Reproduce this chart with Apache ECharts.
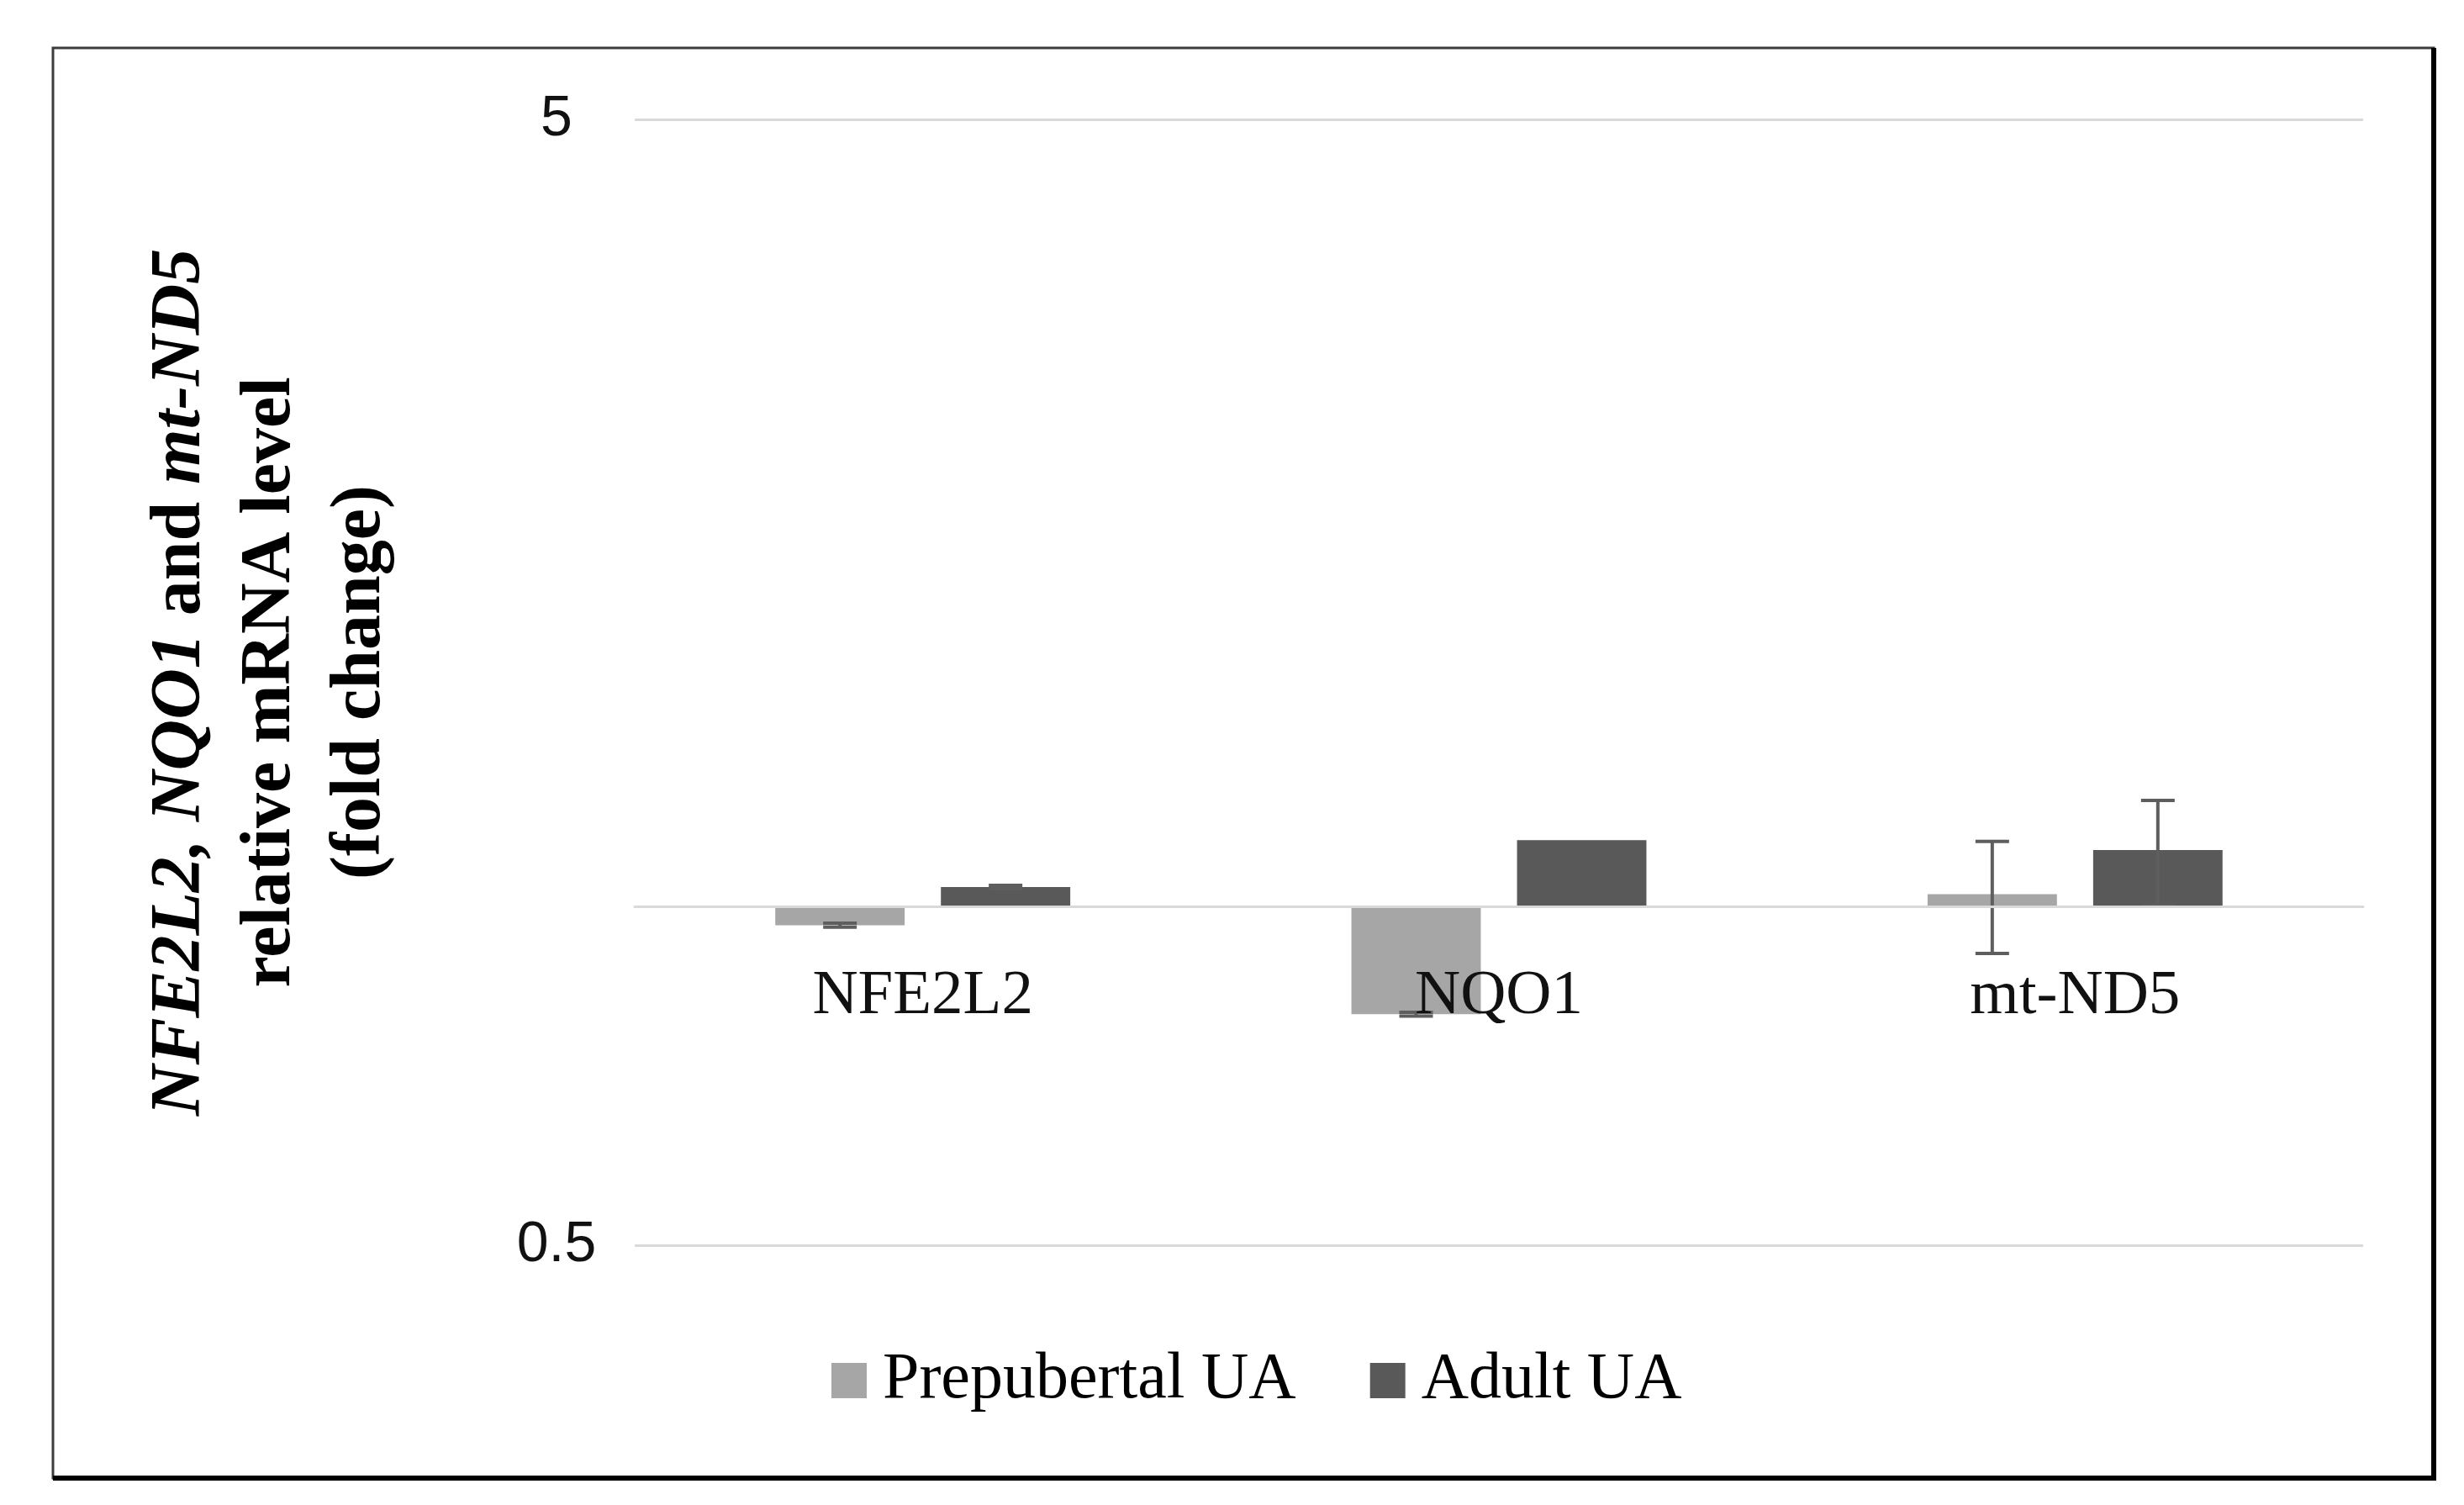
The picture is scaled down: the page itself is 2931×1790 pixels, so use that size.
<!DOCTYPE html>
<html>
<head>
<meta charset="utf-8">
<script src="https://cdn.jsdelivr.net/npm/echarts@6/dist/echarts.min.js"></script>
<style>
  html, body { margin: 0; padding: 0; background: #fff; }
  #chart { width: 2931px; height: 1790px; }
</style>
</head>
<body>
<div id="chart"></div>
<script>
// ---- data ----
const categories = ['NFE2L2', 'NQO1', 'mt-ND5'];
const seriesNames = ['Prepubertal UA', 'Adult UA'];
const prepubertal = [0.962, 0.802, 1.025];
const adult = [1.040, 1.145, 1.122];
const prepubertalErr = [0.004, 0.003, 0.117];
const adultErr = [0.004, 0, 0.120];
const yTicks = [0.5, 5];

// ---- layout / style ----
const GRID = { left: 755, right: 2931 - 2811, top: 142, bottom: 1790 - 1481 };
const GRID_H = 1790 - GRID.top - GRID.bottom;
const CAT_GAP = 0.488, BAR_GAP = 0.28;
const COLORS = ['#a6a6a6', '#595959'];
const SERIF = "'Liberation Serif', 'Times New Roman', serif";
const SANS = "'Liberation Sans', Arial, sans-serif";

const yMin = yTicks[0], yMax = yTicks[yTicks.length - 1];
const xAxisOffset = -GRID_H * Math.log10(1 / yMin) / Math.log10(yMax / yMin);

function errData(means, errs) {
  const out = [];
  means.forEach((m, i) => { if (errs[i] > 0) out.push([i, m - errs[i], m + errs[i]]); });
  return out;
}

function makeErrRender(side) {
  return function (params, api) {
    const i = api.value(0), lo = api.value(1), hi = api.value(2);
    const band = api.coord([1, 1])[0] - api.coord([0, 1])[0];
    const barW = band * (1 - CAT_GAP) / (2 + BAR_GAP);
    const offset = side * (barW + barW * BAR_GAP) / 2;
    const x = api.coord([i, 1])[0] + offset;
    const yLo = api.coord([i, lo])[1];
    const yHi = api.coord([i, hi])[1];
    const cap = 20;
    const st = { stroke: '#5e5e5e', lineWidth: 4 };
    return {
      type: 'group',
      children: [
        { type: 'line', shape: { x1: x, y1: yLo, x2: x, y2: yHi }, style: st },
        { type: 'line', shape: { x1: x - cap, y1: yLo, x2: x + cap, y2: yLo }, style: st },
        { type: 'line', shape: { x1: x - cap, y1: yHi, x2: x + cap, y2: yHi }, style: st }
      ]
    };
  };
}

const chart = echarts.init(document.getElementById('chart'), null, { renderer: 'canvas' });

const titleBase = { fontFamily: SERIF, fontSize: 84, fontWeight: 'bold', color: '#000', lineHeight: 107 };

chart.setOption({
  backgroundColor: '#ffffff',
  animation: false,
  grid: GRID,
  legend: {
    data: seriesNames,
    left: 984,
    top: 1598,
    icon: 'rect',
    itemWidth: 42,
    itemHeight: 42,
    itemGap: 88,
    textStyle: { fontFamily: SERIF, fontSize: 78, color: '#000', padding: [0, 0, 0, 14] }
  },
  xAxis: {
    type: 'category',
    data: categories,
    offset: xAxisOffset,
    z: 5,
    axisLine: { show: true, lineStyle: { color: '#d9d9d9', width: 3 } },
    axisTick: { show: false },
    axisLabel: { fontFamily: SERIF, fontSize: 75, color: '#111', margin: 70 },
    splitLine: { show: false }
  },
  yAxis: {
    type: 'log',
    logBase: 10,
    min: yMin,
    max: yMax,
    interval: 1,
    axisLine: { show: false },
    axisTick: { show: false },
    axisLabel: { fontFamily: SANS, fontSize: 68, color: '#111', align: 'center', margin: 93 },
    splitLine: { show: true, lineStyle: { color: '#d9d9d9', width: 3 } },
    name: '{i|NFE2L2, NQO1}{b| and }{i|mt-ND5}\n{b|relative mRNA level}\n{b|(fold change)}',
    nameLocation: 'middle',
    nameGap: 272,
    nameRotate: 90,
    nameTextStyle: Object.assign({}, titleBase, {
      rich: {
        i: Object.assign({}, titleBase, { fontStyle: 'italic' }),
        b: Object.assign({}, titleBase)
      }
    })
  },
  series: [
    {
      name: seriesNames[0], type: 'bar', data: prepubertal,
      itemStyle: { color: COLORS[0] },
      barCategoryGap: (CAT_GAP * 100) + '%', barGap: (BAR_GAP * 100) + '%'
    },
    {
      name: seriesNames[1], type: 'bar', data: adult,
      itemStyle: { color: COLORS[1] },
      barCategoryGap: (CAT_GAP * 100) + '%', barGap: (BAR_GAP * 100) + '%'
    },
    {
      name: 'errPre', type: 'custom', z: 4, data: errData(prepubertal, prepubertalErr),
      renderItem: makeErrRender(-1), silent: true
    },
    {
      name: 'errAdult', type: 'custom', z: 4, data: errData(adult, adultErr),
      renderItem: makeErrRender(1), silent: true
    }
  ],
  graphic: [
    { type: 'rect', shape: { x: 63, y: 57, width: 2832, height: 1701 },
      style: { fill: 'none', stroke: '#3c3c3c', lineWidth: 3 }, z: 100 },
    { type: 'line', shape: { x1: 2895, y1: 57, x2: 2895, y2: 1761 },
      style: { stroke: '#000', lineWidth: 6 }, z: 101 },
    { type: 'line', shape: { x1: 63, y1: 1758, x2: 2898, y2: 1758 },
      style: { stroke: '#000', lineWidth: 6 }, z: 101 }
  ]
});
</script>
</body>
</html>
